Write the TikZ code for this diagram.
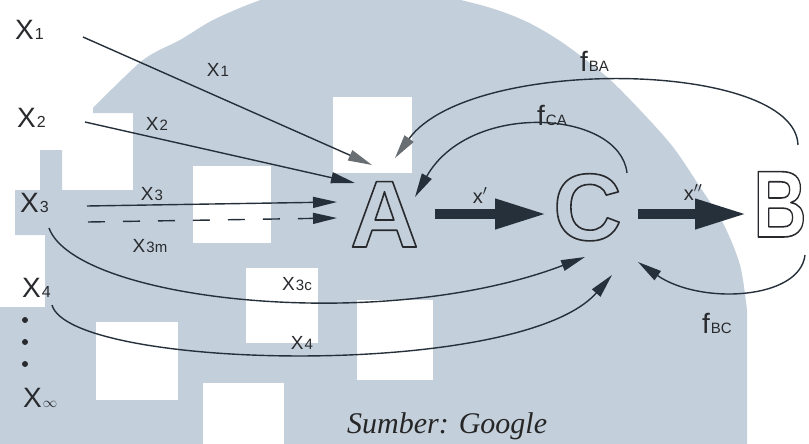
\documentclass[tikz,border=0pt]{standalone}
\usepackage{graphicx}
\usepackage{fontspec}
\setmainfont{Liberation Sans}
\newfontfamily\capfont{Liberation Serif}
\usetikzlibrary{arrows.meta}
\definecolor{wm}{RGB}{195,207,219}
\definecolor{ink}{RGB}{38,48,58}
\definecolor{headgray}{RGB}{105,110,115}
\definecolor{txt}{RGB}{40,42,45}
\newcommand{\bigidx}[2]{#1\kern1pt{\fontsize{16}{16}\selectfont #2}}
\newcommand{\smallidx}[2]{#1\kern1pt{\fontsize{15}{15}\selectfont #2}}
\newcommand{\fidx}[1]{f\kern1pt{\fontsize{15}{15}\selectfont #1}}
\newcommand{\hollow}[1]{\special{pdf:literal direct q 1 Tr 1.6 w 1 j}#1\special{pdf:literal direct Q}}
\tikzset{
  biglbl/.style={anchor=base west,inner sep=0pt,text=txt,font=\fontsize{28}{28}\selectfont},
  arrlbl/.style={anchor=base,inner sep=0pt,text=txt,font=\fontsize{19}{19}\selectfont},
  flbl/.style={anchor=base west,inner sep=0pt,text=txt,font=\fontsize{28}{28}\selectfont},
  letter/.style={anchor=base west,inner sep=0pt,text=txt,font=\fontsize{95}{95}\selectfont\bfseries},
  flow/.style={line width=1.4pt,draw=ink,-{Triangle[length=24pt,width=11pt]}},
  grayflow/.style={line width=1.4pt,draw=ink,-{Triangle[length=24pt,width=11pt,color=headgray]}},
  thickflow/.style={line width=10pt,draw=ink,-{Triangle[length=52pt,width=28pt]}},
}
\begin{document}
\begin{tikzpicture}[x=1pt,y=-1pt]
\useasboundingbox (0,0) rectangle (809,444);
\begin{scope}
\clip (0,0) rectangle (809,444);
\fill[wm] plot[smooth] coordinates {(93,108) (143,60) (180,40) (213,20) (255,2) (300,-12) (370,-18) (473,3) (523,20) (563,43) (607,77) (640,110) (673,147) (700,187) (723,223) (740,265) (747,310)}
  -- (747,444) -- (0,444) -- (0,307) -- (45,307) -- (45,235) -- (15,235) -- (15,190) -- (40,190)
  -- (40,150) -- (62,150) -- (62,190) -- (133,190) -- (133,113) -- (93,113) -- cycle;
\foreach \x/\y/\w/\h in {333/97/79/76, 193/166/78/77, 246/268/72/75, 357/300/76/80, 96/322/82/78, 203/383/81/61} {
  \fill[white] (\x,\y) rectangle ++(\w,\h);
}
\end{scope}

\node[biglbl] (X1) at (15,40) {\bigidx{X}{1}};
\node[biglbl] (X2) at (17,127) {\bigidx{X}{2}};
\node[biglbl] (X3) at (20,212) {\bigidx{X}{3}};
\node[biglbl] (X4) at (22,297) {\bigidx{X}{4}};
\node[biglbl] (Xn) at (23,407) {X\kern1pt{\fontsize{14}{14}\selectfont$\infty$}};
\foreach \y in {320,342,364} {
  \fill[txt] (25,\y) circle (3pt);
}

\node[letter] (A) at (350,247) {\hollow{A}};
\node[letter] (C) at (553,240) {\hollow{C}};
\node[letter] (B) at (753,237) {\scalebox{0.78}[1]{\hollow{B}}};

\coordinate (s1) at (83,37);
\coordinate (s2) at (85,122);
\coordinate (s3) at (87,206);
\coordinate (s3m) at (88,222);
\coordinate (s3c) at (49,228);
\coordinate (s4) at (52,305);
\coordinate (a1) at (372,165);
\coordinate (a2) at (355,183);
\coordinate (a3) at (337,202);
\coordinate (a3m) at (337,218);
\coordinate (c3c) at (585,257);
\coordinate (c4) at (612,275);
\coordinate (ba) at (798,145);
\coordinate (ab) at (395,158);
\coordinate (ca) at (627,173);
\coordinate (ac) at (415,197);
\coordinate (bc) at (805,255);
\coordinate (cb) at (638,262);

\draw[grayflow] (s1) -- (a1);
\draw[flow] (s2) -- (a2);
\draw[flow] (s3) -- (a3);
\draw[flow,dash pattern=on 17pt off 18pt] (s3m) -- (a3m);
\draw[flow] (s3c) .. controls (75,300) and (380,335) .. (c3c);
\draw[flow] (s4) .. controls (70,370) and (520,380) .. (c4);
\draw[grayflow] (ba) .. controls (795,60) and (470,55) .. (ab);
\draw[flow] (ca) .. controls (620,110) and (470,100) .. (ac);
\draw[flow] (bc) .. controls (800,300) and (700,305) .. (cb);

\draw[thickflow] (435,214) -- (547,214);
\draw[thickflow] (638,214) -- (747,214);

\node[arrlbl] at (218,77) {\smallidx{X}{1}};
\node[arrlbl] at (157,130) {\smallidx{X}{2}};
\node[arrlbl] at (152,200) {\smallidx{X}{3}};
\node[arrlbl] at (150,252) {\smallidx{X}{3m}};
\node[arrlbl] at (297,290) {\smallidx{X}{3c}};
\node[arrlbl] at (302,349) {\smallidx{X}{4}};
\node[arrlbl,font=\fontsize{20}{20}\selectfont] at (480,203) {x$'$};
\node[arrlbl,font=\fontsize{20}{20}\selectfont] at (693,200) {x$''$};

\node[flbl] (fBA) at (580,72) {\fidx{BA}};
\node[flbl] (fCA) at (537,125) {\fidx{CA}};
\node[flbl] (fBC) at (702,333) {\fidx{BC}};

\node[anchor=base west,inner sep=0pt,text=black!85,font=\capfont\itshape\fontsize{30}{30}\selectfont] (src) at (347,433) {Sumber: Google};
\end{tikzpicture}
\end{document}
